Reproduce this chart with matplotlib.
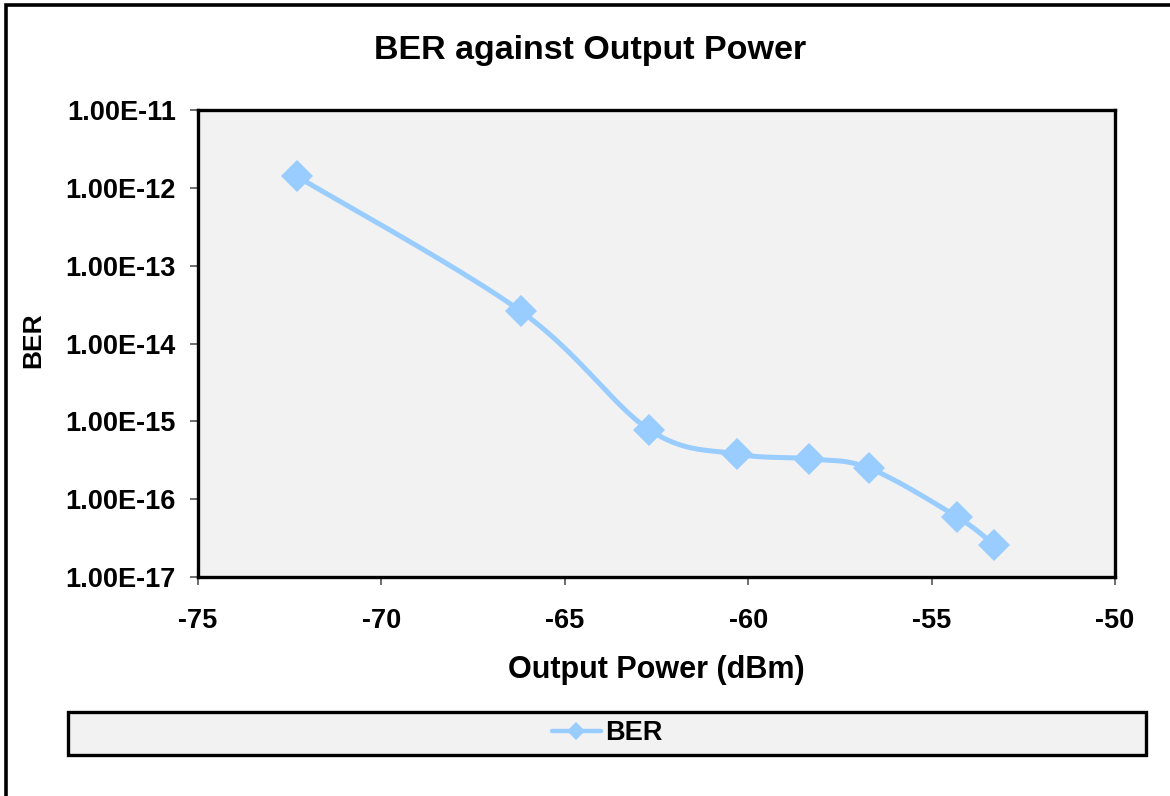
import numpy as np
import matplotlib.pyplot as plt
from matplotlib.patches import Rectangle
from matplotlib.lines import Line2D
from matplotlib.ticker import FixedLocator, FuncFormatter, NullLocator

plt.rcParams['font.family'] = ['Liberation Sans', 'DejaVu Sans']
plt.rcParams['font.weight'] = 'bold'

# data
power_dbm = [-72.3, -66.2, -62.7, -60.3, -58.35, -56.7, -54.3, -53.3]
ber = [1.4e-12, 2.6e-14, 7.8e-16, 3.8e-16, 3.3e-16, 2.5e-16, 5.9e-17, 2.6e-17]

x_ticks = [-75, -70, -65, -60, -55, -50]
y_exps = [-17, -16, -15, -14, -13, -12, -11]

line_col = '#99CCFF'
panel_col = '#F2F2F2'

W, H = 1170, 796
fig = plt.figure(figsize=(W / 100, H / 100), dpi=100)

# outer chart frame (right/bottom edges fall off the picture)
fig.patches.append(Rectangle((6 / W, -0.05), 1.2, 1 - 4.5 / H + 0.05,
                             transform=fig.transFigure, fill=False,
                             edgecolor='black', linewidth=2.6))

ax = fig.add_axes([198 / W, 1 - 577 / H, (1115 - 198) / W, (577 - 110) / H])
ax.set_facecolor(panel_col)
for s in ax.spines.values():
    s.set_linewidth(2.4)
    s.set_color('black')

ax.set_yscale('log')
ax.set_xlim(-75, -50)
ax.set_ylim(1e-17, 1e-11)


def smooth(xs, ys, n=40):
    # Excel-like smoothed line: Catmull-Rom bezier in screen space
    u = (np.array(xs) + 75) / 25 * 917
    v = (np.log10(ys) + 17) / 6 * 467
    P = np.column_stack([u, v])
    P = np.vstack([P[0], P, P[-1]])
    out = []
    for i in range(1, len(P) - 2):
        p0, p1, p2, p3 = P[i - 1], P[i], P[i + 1], P[i + 2]
        c1 = p1 + (p2 - p0) / 6
        c2 = p2 - (p3 - p1) / 6
        t = np.linspace(0, 1, n)[:, None]
        seg = ((1 - t) ** 3 * p1 + 3 * (1 - t) ** 2 * t * c1
               + 3 * (1 - t) * t ** 2 * c2 + t ** 3 * p2)
        out.append(seg)
    out = np.vstack(out)
    return out[:, 0] / 917 * 25 - 75, 10 ** (out[:, 1] / 467 * 6 - 17)


sx, sy = smooth(power_dbm, ber)
ax.plot(sx, sy, color=line_col, linewidth=3.6, solid_capstyle='round', zorder=2)
ax.plot(power_dbm, ber, linestyle='none', marker='D', markersize=16,
        color=line_col, markeredgewidth=0, zorder=3)

ax.xaxis.set_major_locator(FixedLocator(x_ticks))
ax.xaxis.set_major_formatter(FuncFormatter(lambda v, p: '%d' % v))
ax.yaxis.set_major_locator(FixedLocator([10.0 ** e for e in y_exps]))
ax.yaxis.set_minor_locator(NullLocator())
ax.yaxis.set_major_formatter(FuncFormatter(lambda v, p: '1.00E%d' % round(np.log10(v))))
ax.tick_params(axis='both', direction='out', length=6, width=1.2,
               color='#555555', labelsize=19.5)
ax.tick_params(axis='x', pad=16)
ax.tick_params(axis='y', pad=10)
for lab in ax.get_xticklabels() + ax.get_yticklabels():
    lab.set_fontweight('bold')

fig.text(590 / W, 1 - 50 / H, 'BER against Output Power', ha='center',
         va='center', fontsize=24.5, fontweight='bold')
fig.text(656 / W, 1 - 670 / H, 'Output Power (dBm)', ha='center',
         va='center', fontsize=22, fontweight='bold')
fig.text(33 / W, 1 - 340 / H, 'BER', ha='center', va='center',
         rotation=90, fontsize=19, fontweight='bold')

# legend box with shadow
lx0, lx1, ly0, ly1 = 68, 1146, 712, 755
fig.patches.append(Rectangle(((lx0 + 2) / W, 1 - (ly1 + 2) / H),
                             (lx1 - lx0) / W, (ly1 - ly0) / H,
                             transform=fig.transFigure, facecolor='#333333',
                             edgecolor='none', zorder=1))
fig.patches.append(Rectangle((lx0 / W, 1 - ly1 / H), (lx1 - lx0) / W,
                             (ly1 - ly0) / H, transform=fig.transFigure,
                             facecolor=panel_col, edgecolor='black',
                             linewidth=2.4, zorder=2))
handle = Line2D([], [], color=line_col, linewidth=3.2, marker='D',
                markersize=9.5, markeredgewidth=0, solid_capstyle='round')
leg = fig.legend([handle], ['BER'], loc='center',
                 bbox_to_anchor=(607 / W, 1 - 733 / H), frameon=False,
                 handlelength=1.8, handletextpad=0.15,
                 prop={'weight': 'bold', 'size': 19.5})
leg.set_zorder(5)

fig.savefig('out.png', dpi=100)
